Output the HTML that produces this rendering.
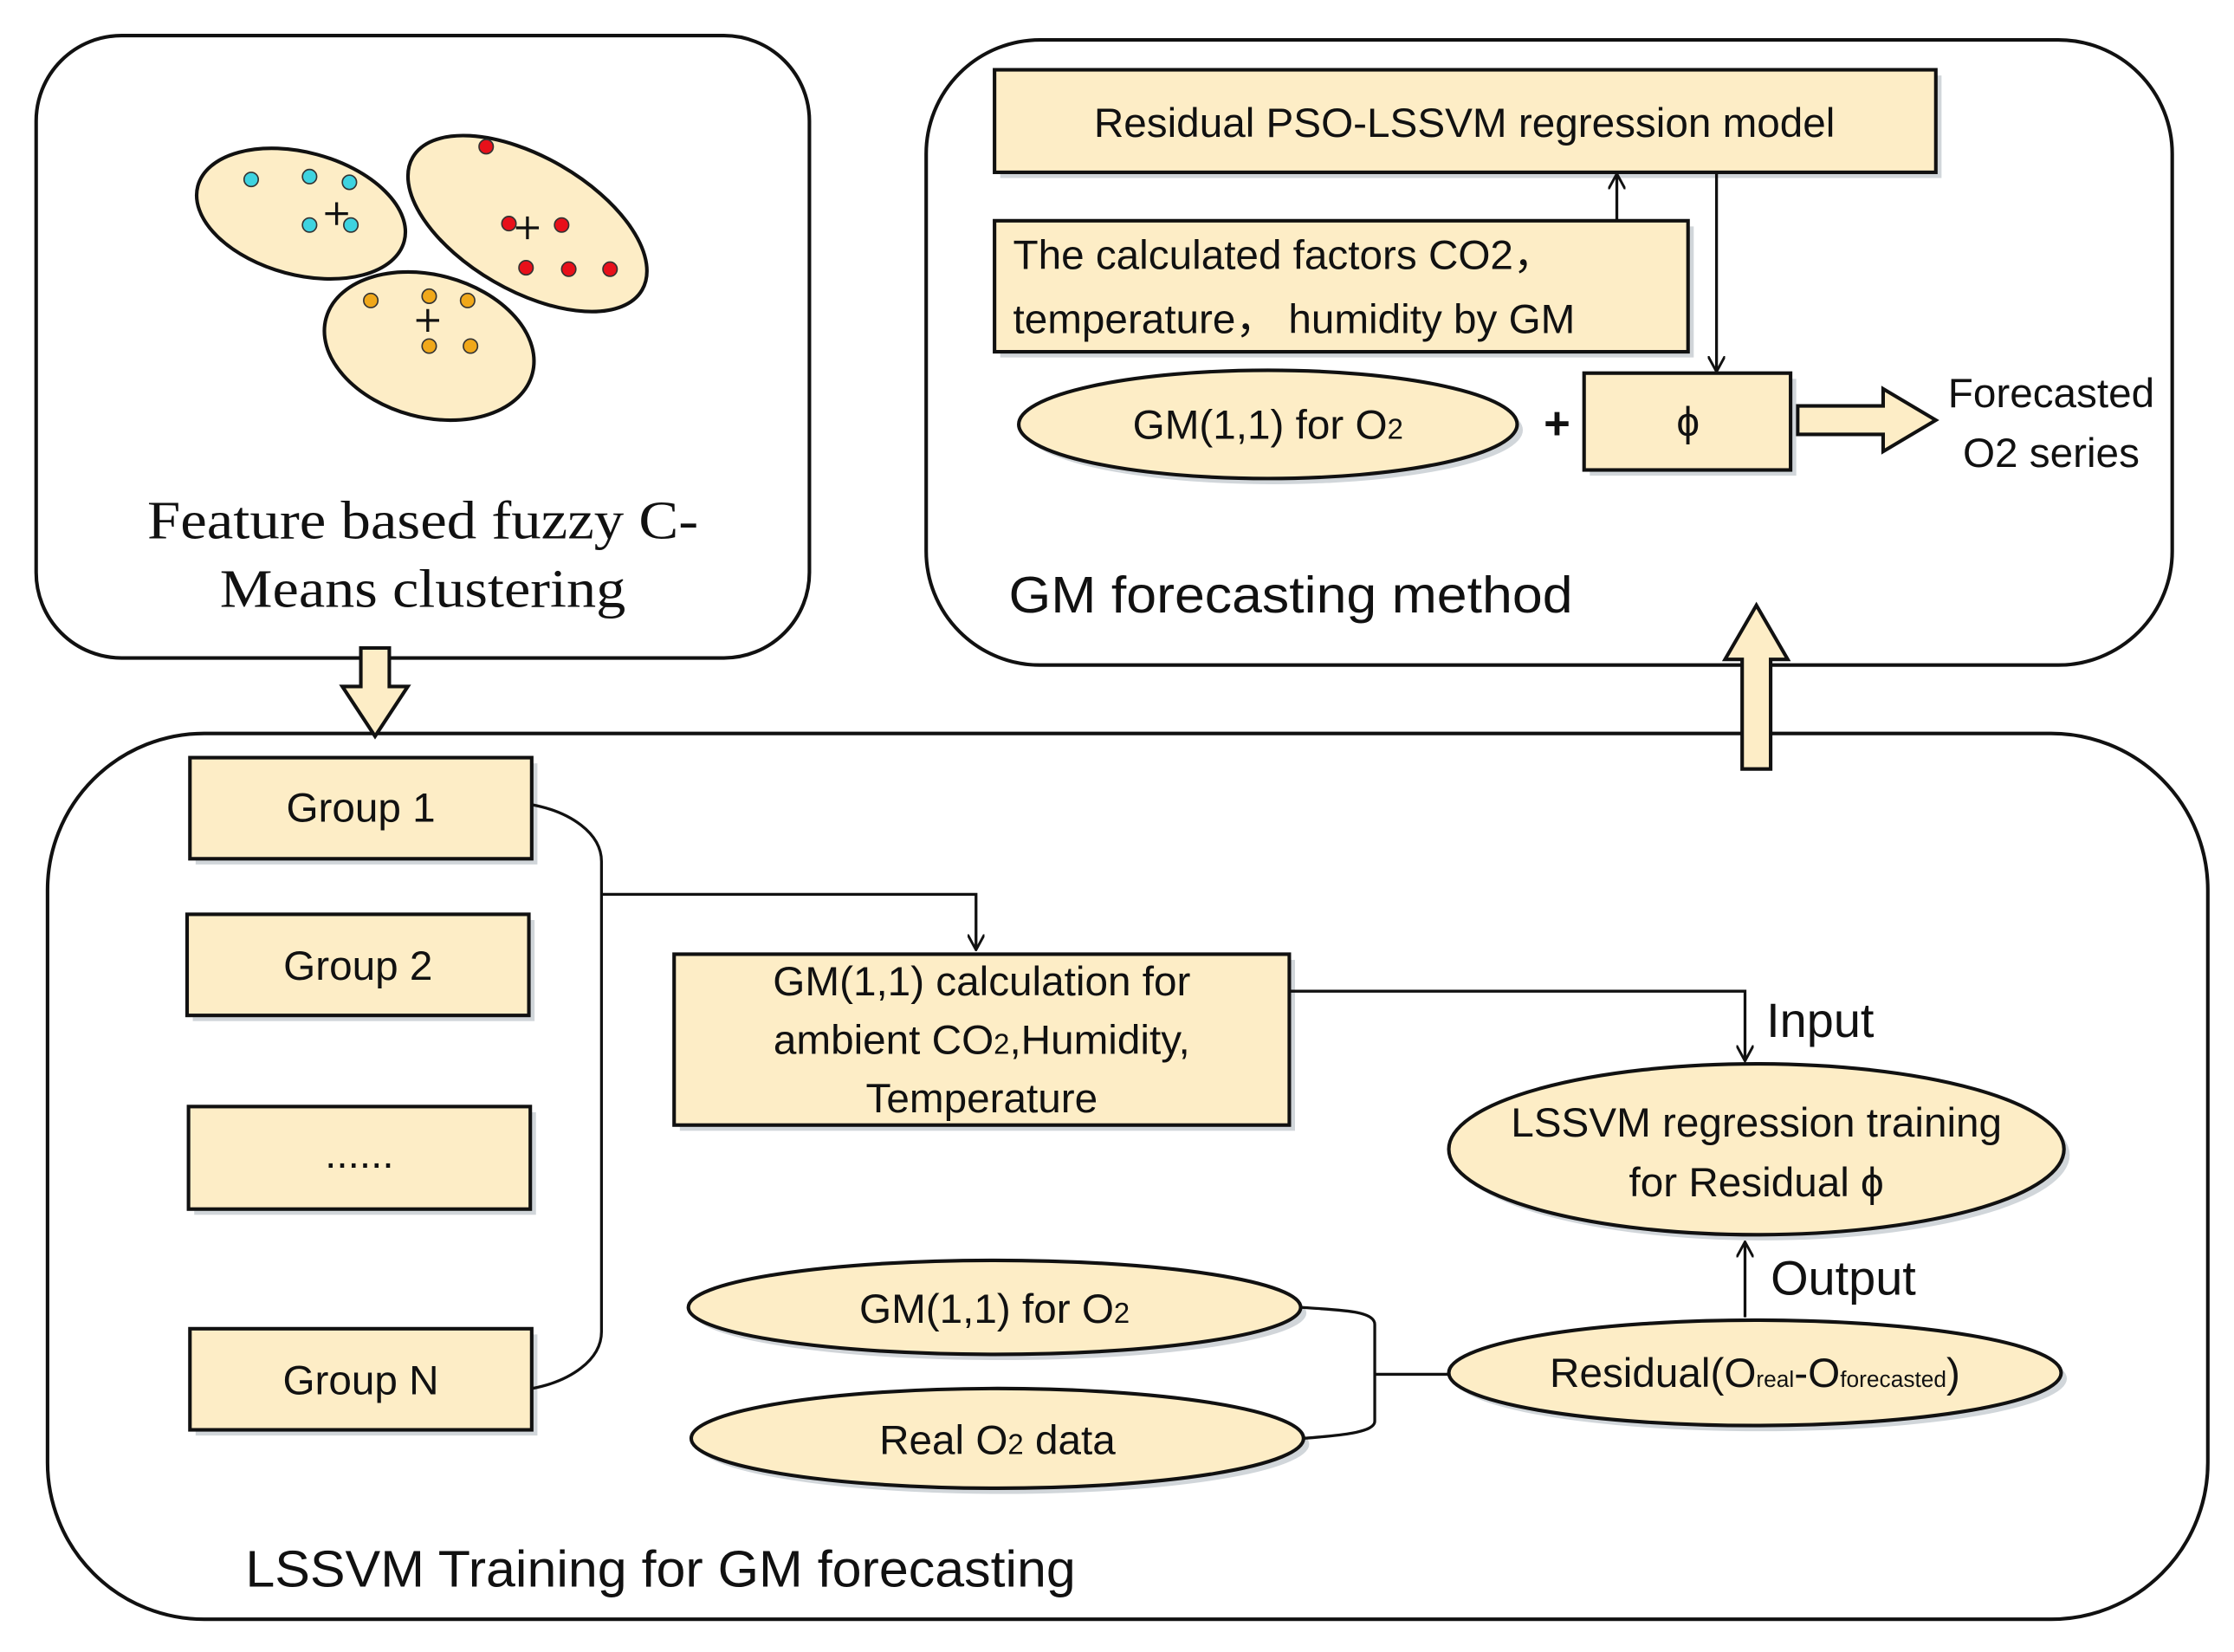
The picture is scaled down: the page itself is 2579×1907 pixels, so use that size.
<!DOCTYPE html>
<html><head><meta charset="utf-8"><style>
html,body{margin:0;padding:0;background:#fff;}
svg{display:block;}
text{font-family:"Liberation Sans",sans-serif;fill:#111;}
.s{font-family:"Liberation Serif",serif;}
</style></head><body>
<svg width="2579" height="1907" viewBox="0 0 1568 1160" xmlns="http://www.w3.org/2000/svg">
<defs>
<marker id="ar" viewBox="0 0 12 12" refX="11" refY="6" markerWidth="12" markerHeight="12" markerUnits="userSpaceOnUse" orient="auto">
<path d="M0,0 L11,6 L0,12" fill="none" stroke="#111" stroke-width="1.8"/></marker>
</defs>
<g fill="none" stroke="#111" stroke-width="2.5">
<rect x="25" y="25" width="543" height="437" rx="60"/>
<rect x="650" y="28" width="875" height="439" rx="80"/>
<rect x="33" y="515" width="1517" height="622" rx="110"/>
</g>
<g fill="#FDEDC6" stroke="#111" stroke-width="2.5">
<ellipse cx="211" cy="150" rx="75" ry="43" transform="rotate(15 211 150)"/>
<ellipse cx="370" cy="157" rx="93" ry="47" transform="rotate(30 370 157)"/>
<ellipse cx="301" cy="243" rx="75" ry="50" transform="rotate(15 301 243)"/>
</g>
<g fill="#3ED3E0" stroke="#333" stroke-width="1"><circle cx="176" cy="126" r="5"/><circle cx="217" cy="124" r="5"/><circle cx="245" cy="128" r="5"/><circle cx="217" cy="158" r="5"/><circle cx="246" cy="158" r="5"/></g>
<g fill="#E8101A" stroke="#333" stroke-width="1"><circle cx="341" cy="103" r="5"/><circle cx="357" cy="157" r="5"/><circle cx="394" cy="158" r="5"/><circle cx="369" cy="188" r="5"/><circle cx="399" cy="189" r="5"/><circle cx="428" cy="189" r="5"/></g>
<g fill="#F0A81A" stroke="#333" stroke-width="1"><circle cx="260" cy="211" r="5"/><circle cx="301" cy="208" r="5"/><circle cx="328" cy="211" r="5"/><circle cx="301" cy="243" r="5"/><circle cx="330" cy="243" r="5"/></g>
<g stroke="#111" stroke-width="2"><path d="M228,150 h16 M236,142 v16"/><path d="M362,160 h16 M370,152 v16"/><path d="M292,225 h16 M300,217 v16"/></g>
<text class="s" x="103" y="378" font-size="38" textLength="387" lengthAdjust="spacingAndGlyphs">Feature based fuzzy C-</text>
<text class="s" x="154" y="426" font-size="38" textLength="285" lengthAdjust="spacingAndGlyphs">Means clustering</text>
<g fill="#FDEDC6" stroke="#111" stroke-width="2.5">
<path d="M253,455 h20 v27 h13 l-23,35 l-23,-35 h13 z"/>
<path d="M1223,540 h20 v-77 h12 l-22,-38 l-22,38 h12 z"/>
<path d="M1262,285 h60 v-12 l37,22 l-37,22 v-12 h-60 z"/>
</g>
<g fill="#9aa3ad" opacity="0.45">
<rect x="702" y="53" width="661" height="72"/><rect x="702" y="159" width="487" height="92"/><rect x="1116" y="266" width="145" height="68"/>
<ellipse cx="894" cy="302" rx="175" ry="38"/>
<rect x="137" y="536" width="240" height="71"/><rect x="135" y="646" width="240" height="71"/><rect x="136" y="781" width="240" height="72"/><rect x="137" y="937" width="240" height="71"/>
<rect x="477" y="674" width="432" height="120"/>
<ellipse cx="1237" cy="811" rx="216" ry="60"/><ellipse cx="1236" cy="968" rx="215" ry="37"/>
<ellipse cx="702" cy="922" rx="215" ry="33"/><ellipse cx="704" cy="1014" rx="215" ry="35"/>
</g>
<g fill="#FDEDC6" stroke="#111" stroke-width="2.5">
<rect x="698" y="49" width="661" height="72"/><rect x="698" y="155" width="487" height="92"/><rect x="1112" y="262" width="145" height="68"/>
<ellipse cx="890" cy="298" rx="175" ry="38"/>
<rect x="133" y="532" width="240" height="71"/><rect x="131" y="642" width="240" height="71"/><rect x="132" y="777" width="240" height="72"/><rect x="133" y="933" width="240" height="71"/>
<rect x="473" y="670" width="432" height="120"/>
<ellipse cx="1233" cy="807" rx="216" ry="60"/><ellipse cx="1232" cy="964" rx="215" ry="37"/>
<ellipse cx="698" cy="918" rx="215" ry="33"/><ellipse cx="700" cy="1010" rx="215" ry="35"/>
</g>
<g fill="none" stroke="#111" stroke-width="2">
<path d="M1135,155 V122" marker-end="url(#ar)"/>
<path d="M1205,121 V261" marker-end="url(#ar)"/>
<path d="M373,565 C400,570 422,585 422,605 V935 C422,955 400,970 373,975"/>
<path d="M422,628 H685 V667" marker-end="url(#ar)"/>
<path d="M905,696 H1225 V745" marker-end="url(#ar)"/>
<path d="M1225,925 V872" marker-end="url(#ar)"/>
<path d="M913,918 C940,920 965,920 965,930 V998 C965,1006 940,1008 915,1010"/>
<path d="M965,965 H1017"/>
</g>
<g font-size="29" text-anchor="middle">
<text x="1028" y="96">Residual PSO-LSSVM regression model</text>
<text x="711" y="189" text-anchor="start">The calculated factors CO2，</text>
<text x="711" y="234" text-anchor="start">temperature， humidity by GM</text>
<text x="890" y="308">GM(1,1) for O<tspan font-size="20">2</tspan></text>
<text x="1093" y="308" font-size="32" font-weight="bold">+</text>
<text x="1185" y="306">ϕ</text>
<text x="1440" y="286">Forecasted</text>
<text x="1440" y="328">O2 series</text>
<text x="708" y="430" font-size="36" text-anchor="start" textLength="396" lengthAdjust="spacingAndGlyphs">GM forecasting method</text>
<text x="253" y="577">Group 1</text>
<text x="251" y="688">Group 2</text>
<text x="252" y="820">......</text>
<text x="253" y="979">Group N</text>
<text x="689" y="699">GM(1,1) calculation for</text>
<text x="689" y="740">ambient CO<tspan font-size="20">2</tspan>,Humidity,</text>
<text x="689" y="781">Temperature</text>
<text x="1240" y="728" font-size="34" text-anchor="start">Input</text>
<text x="1233" y="798">LSSVM regression training</text>
<text x="1233" y="840">for Residual  ϕ</text>
<text x="1243" y="909" font-size="34" text-anchor="start">Output</text>
<text x="1232" y="974">Residual(O<tspan font-size="16">real</tspan>-O<tspan font-size="16">forecasted</tspan>)</text>
<text x="698" y="929">GM(1,1) for O<tspan font-size="20">2</tspan></text>
<text x="700" y="1021">Real  O<tspan font-size="20">2</tspan> data</text>
<text x="172" y="1114" font-size="36" text-anchor="start" textLength="583" lengthAdjust="spacingAndGlyphs">LSSVM Training for GM forecasting</text>
</g>
</svg>
</body></html>
